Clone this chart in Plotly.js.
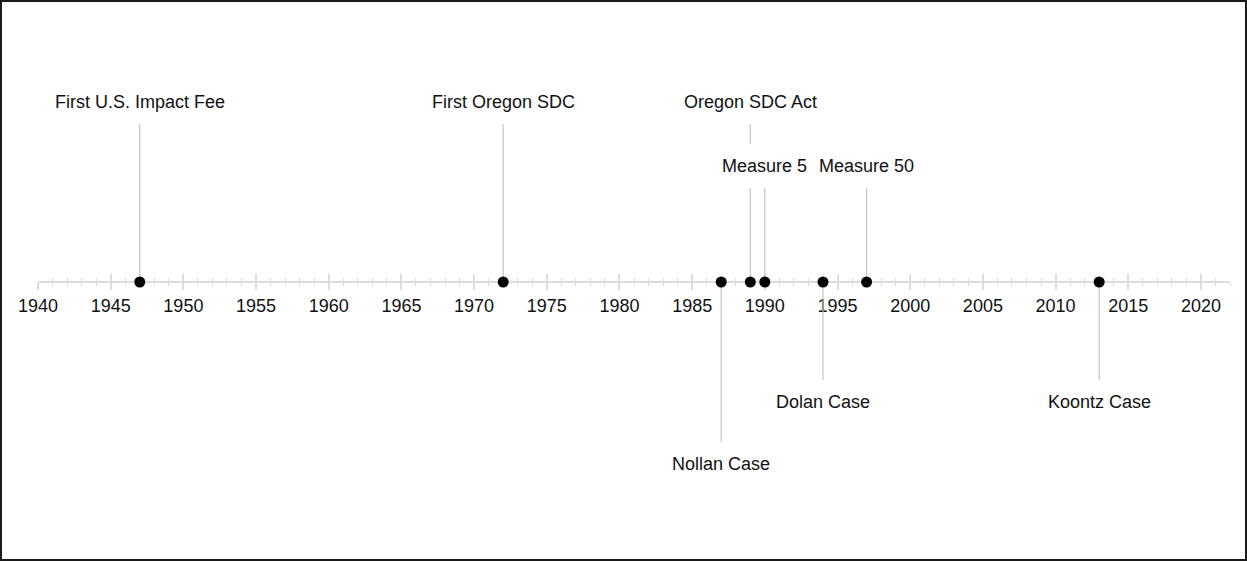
<!DOCTYPE html>
<html>
<head>
<meta charset="utf-8">
<script src="https://cdn.plot.ly/plotly-3.0.1.min.js"></script>
<style>
  html, body { margin: 0; padding: 0; background: #fff; }
  #wrap { position: relative; width: 1247px; height: 561px; }
  #chart { width: 1247px; height: 561px; }
  #frame { position: absolute; left: 0; top: 0; width: 1247px; height: 561px;
           box-sizing: border-box; border: 2px solid #1a1a1a; pointer-events: none; }
</style>
</head>
<body>
<div id="wrap"><div id="chart"></div><div id="frame"></div></div>
<script>
// ---- data ----
const eventYears  = [1947, 1972, 1987, 1989, 1990, 1994, 1997, 2013];
const eventLabels = ["First U.S. Impact Fee", "First Oregon SDC", "Nollan Case", "Oregon SDC Act",
                     "Measure 5", "Dolan Case", "Measure 50", "Koontz Case"];
const labelLevels = [1.5, 1.5, -1.52, 1.5, 0.97, -1.0, 0.97, -1.0];
const tickYears   = [1940, 1945, 1950, 1955, 1960, 1965, 1970, 1975, 1980, 1985,
                     1990, 1995, 2000, 2005, 2010, 2015, 2020];

// ---- style ----
const FONT = "'Liberation Sans', Arial, sans-serif";
const FSIZE = 18;
const yRange = [-2.325, 2.35];
const xRange = [1940, 2022];
const axisPos = (0 - yRange[0]) / (yRange[1] - yRange[0]);

// stems
const stemX = [], stemY = [];
eventYears.forEach((yr, i) => {
  stemX.push(yr, yr, null);
  stemY.push(0, labelLevels[i], null);
});

const traces = [
  { type: 'scatter', mode: 'lines', x: stemX, y: stemY, xaxis: 'x2',
    line: { color: '#c4c4c4', width: 1.2 }, hoverinfo: 'skip', showlegend: false, cliponaxis: false },
  { type: 'scatter', mode: 'markers', x: eventYears, y: eventYears.map(() => 0), xaxis: 'x2',
    marker: { color: '#000', size: 11, line: { width: 0 } }, showlegend: false, cliponaxis: false,
    text: eventLabels, hoverinfo: 'text+x' }
];

const axisCommon = {
  range: xRange, anchor: 'free', position: axisPos,
  showgrid: false, zeroline: false, showline: true,
  linecolor: '#dcdcdc', linewidth: 2, layer: 'below traces',
  tickmode: 'array', tickvals: tickYears,
  tickcolor: '#dcdcdc', tickwidth: 2, ticklen: 7,
  fixedrange: true
};

const annotations = eventYears.map((yr, i) => ({
  x: yr, y: labelLevels[i], xref: 'x', yref: 'y',
  text: eventLabels[i], showarrow: false,
  xanchor: 'center', yanchor: 'middle',
  bgcolor: '#ffffff', borderpad: 3, borderwidth: 0, height: 38,
  font: { family: FONT, size: FSIZE, color: '#111' }
}));

const layout = {
  width: 1247, height: 561,
  margin: { l: 38, r: 17, t: 0, b: 0 },
  paper_bgcolor: '#fff', plot_bgcolor: '#fff',
  showlegend: false,
  xaxis: Object.assign({}, axisCommon, {
    ticks: 'outside', showticklabels: true, ticktext: tickYears.map(String),
    tickfont: { family: FONT, size: FSIZE, color: '#111' },
    minor: { dtick: 1, ticks: 'outside', ticklen: 3, tickwidth: 1, tickcolor: '#dcdcdc' }
  }),
  xaxis2: Object.assign({}, axisCommon, {
    overlaying: 'x', ticks: 'inside', showticklabels: false,
    minor: { dtick: 1, ticks: 'inside', ticklen: 3, tickwidth: 1, tickcolor: '#dcdcdc' }
  }),
  yaxis: { range: yRange, visible: false, showgrid: false, zeroline: false, fixedrange: true },
  annotations: annotations
};

Plotly.newPlot('chart', traces, layout, { staticPlot: true, displayModeBar: false });
</script>
</body>
</html>
